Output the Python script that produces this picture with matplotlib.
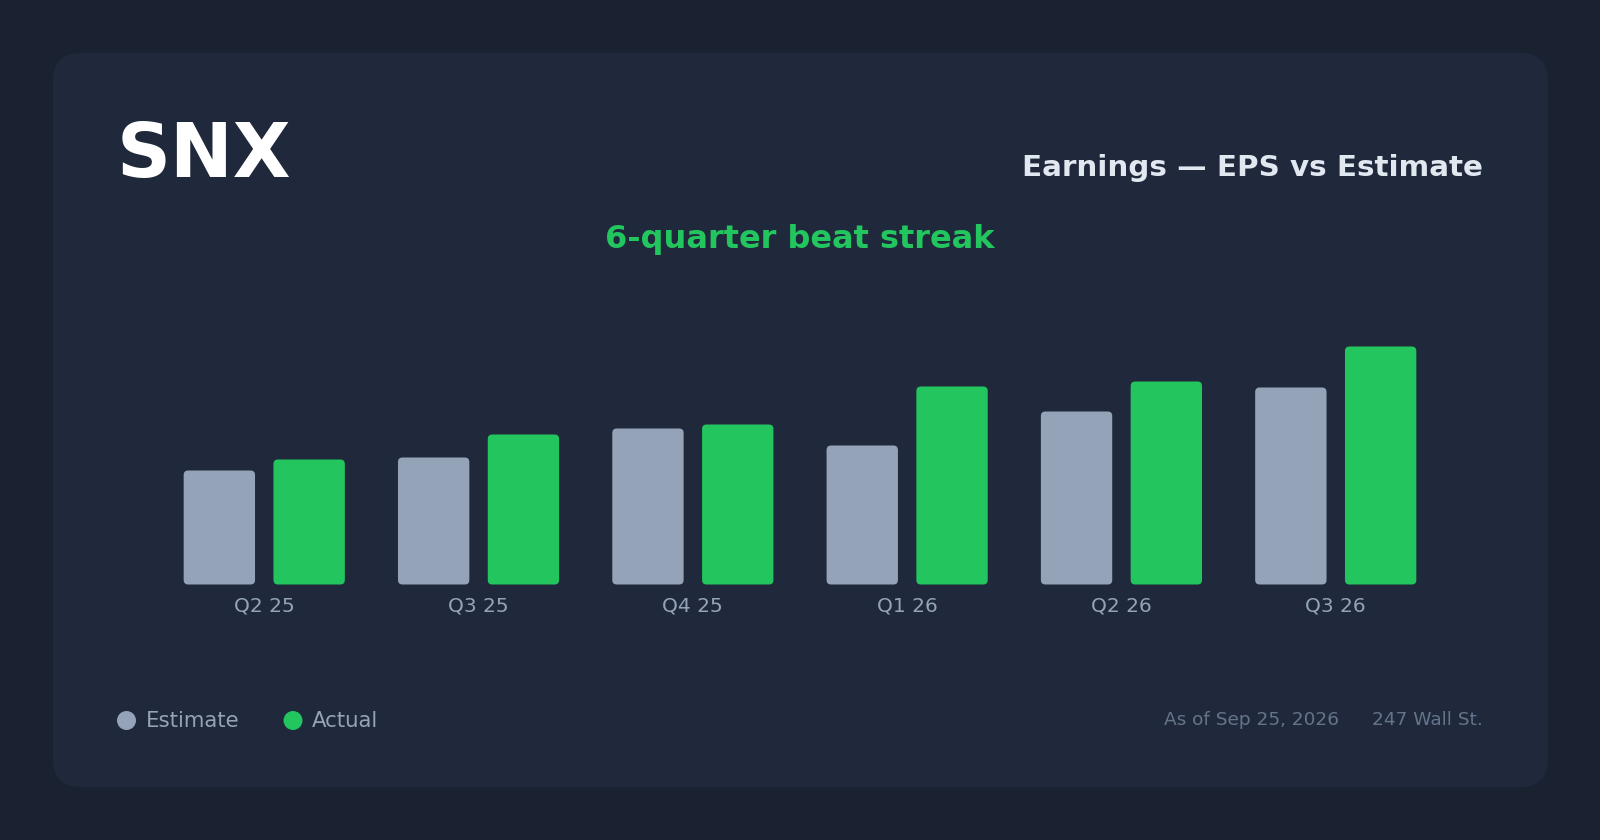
#SNX earnings card: EPS estimate vs actual per quarter
import matplotlib
matplotlib.use("Agg")
import matplotlib.pyplot as plt
from matplotlib.patches import FancyBboxPatch, Circle

#data
quarters = ["Q2 25", "Q3 25", "Q4 25", "Q1 26", "Q2 26", "Q3 26"]
eps_estimate = [1.14, 1.27, 1.56, 1.39, 1.73, 1.97]
eps_actual = [1.25, 1.50, 1.60, 1.98, 2.03, 2.38]

#colors
BG = "#1a2231"
CARD = "#1f293b"
EST_C = "#94a3b8"
ACT_C = "#22c55e"
TITLE_C = "#e2e8f0"
FOOT_C = "#64748b"

W, H = 1600, 840
fig = plt.figure(figsize=(16, 8.4), dpi=100)
fig.patch.set_facecolor(BG)

#background axes in pixel units (y down)
bg = fig.add_axes([0, 0, 1, 1])
bg.set_xlim(0, W)
bg.set_ylim(H, 0)
bg.axis("off")
bg.set_zorder(0)

card = FancyBboxPatch((53, 53), 1495, 734, boxstyle="round,pad=0,rounding_size=28",
                      facecolor=CARD, edgecolor="none")
bg.add_patch(card)

bg.text(117, 176.7, "SNX", fontsize=54, fontweight="bold", color="#ffffff",
        ha="left", va="baseline")
bg.text(1483, 176, "Earnings \u2014 EPS vs Estimate", fontsize=21.2, fontweight="bold",
        color=TITLE_C, ha="right", va="baseline")
bg.text(800, 248, "6-quarter beat streak", fontsize=23, fontweight="bold",
        color=ACT_C, ha="center", va="baseline")

#legend
bg.add_patch(Circle((126.5, 720.5), 9.5, facecolor=EST_C, edgecolor="none"))
bg.text(145.5, 726.7, "Estimate", fontsize=15.3, color=EST_C, ha="left", va="baseline")
bg.add_patch(Circle((293, 720.5), 9.5, facecolor=ACT_C, edgecolor="none"))
bg.text(312, 726.7, "Actual", fontsize=15.3, color=EST_C, ha="left", va="baseline")

#footer
bg.text(1339.5, 725, "As of Sep 25, 2026", fontsize=13.3, color=FOOT_C,
        ha="right", va="baseline")
bg.text(1483, 725, "247 Wall St.", fontsize=13.3, color=FOOT_C,
        ha="right", va="baseline")

#bar axes
left, right = 157.1, 1442.9
bottom, top = 584.5, 284.5
ax = fig.add_axes([left / W, 1 - bottom / H, (right - left) / W, (bottom - top) / H])
ax.set_zorder(1)
ax.patch.set_alpha(0)
ax.set_xlim(-0.5, len(quarters) - 0.5)
ax.set_ylim(0, 3.0)
for s in ax.spines.values():
    s.set_visible(False)
ax.set_yticks([])

x = list(range(len(quarters)))
bw = 0.333
off = 0.2095
bars_e = ax.bar([i - off for i in x], eps_estimate, width=bw, color=EST_C)
bars_a = ax.bar([i + off for i in x], eps_actual, width=bw, color=ACT_C)

#swap the square bars for rounded ones
px_x = (right - left) / (len(quarters))  # pixels per x unit
px_y = (bottom - top) / 3.0             # pixels per y unit
r_px = 4.5
aspect = (1 / px_y) / (1 / px_x)
for bars in (bars_e, bars_a):
    for b in bars:
        bx, by = b.get_x(), b.get_y()
        bwid, bh = b.get_width(), b.get_height()
        rp = FancyBboxPatch((bx, by), bwid, bh,
                            boxstyle="round,pad=0,rounding_size=%f" % (r_px / px_x),
                            mutation_aspect=aspect,
                            facecolor=b.get_facecolor(), edgecolor="none")
        b.remove()
        ax.add_patch(rp)

ax.set_xticks(x)
ax.set_xticklabels(quarters)
ax.tick_params(axis="x", length=0, pad=9.0, labelsize=14.5, labelcolor=EST_C)

fig.savefig("out.png", dpi=100, facecolor=BG)
